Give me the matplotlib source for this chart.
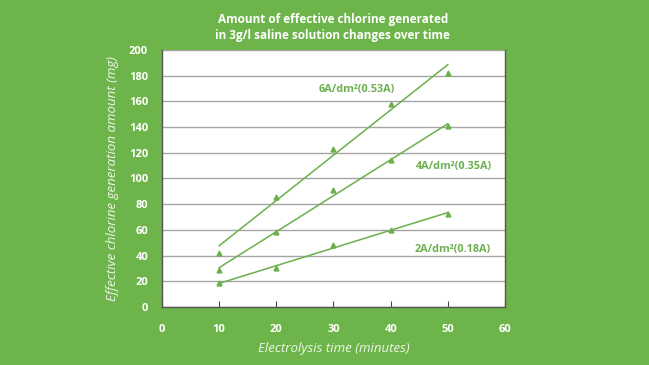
import numpy as np
import matplotlib
matplotlib.use('Agg')
import matplotlib.pyplot as plt

# data
time_min = [10, 20, 30, 40, 50]
chlorine_6a = [42, 85.6, 123, 158, 182]
chlorine_4a = [29, 58, 91, 114, 141]
chlorine_2a = [18.4, 30.6, 48, 60, 72.6]
series_labels = ['6A/dm²(0.53A)', '4A/dm²(0.35A)', '2A/dm²(0.18A)']
label_pos = [(34.1, 169), (51.1, 109), (50.9, 44.5)]

bg = '#6db54a'
green = '#6ab04c'
plt.rcParams['font.family'] = ['Open Sans', 'DejaVu Sans']

fig = plt.figure(figsize=(6.49, 3.65), dpi=100, facecolor=bg)
ax = fig.add_axes([0.2496, 0.159, 0.5285, 0.704])
ax.set_facecolor('white')

for ys, lab, (lx, ly) in zip([chlorine_6a, chlorine_4a, chlorine_2a], series_labels, label_pos):
    x = np.array(time_min)
    k, b = np.polyfit(x, ys, 1)
    ax.plot([x[0], x[-1]], [k * x[0] + b, k * x[-1] + b], color=green, lw=1.1, zorder=3)
    ax.plot(x, ys, '^', color=green, ms=3.5, zorder=4)
    ax.text(lx, ly, lab, color=green, fontsize=7.8, fontweight='bold',
            ha='center', va='center')

ax.set_xlim(0, 60)
ax.set_ylim(0, 200)
ax.set_xticks(range(0, 61, 10))
ax.set_yticks(range(0, 201, 20))
ax.yaxis.grid(True, color='#a5a5a5', lw=1)
ax.set_axisbelow(True)
ax.tick_params(axis='x', direction='in', length=4, color='#444444', colors='white',
               labelsize=8, pad=12)
ax.tick_params(axis='y', length=0, colors='white', labelsize=8, pad=10)
for t in ax.get_xticklabels() + ax.get_yticklabels():
    t.set_fontweight('bold')
for s in ['left', 'bottom', 'right']:
    ax.spines[s].set_color('#555555')
    ax.spines[s].set_linewidth(1)
ax.spines['top'].set_visible(False)

ax.set_xlabel('Electrolysis time (minutes)', color='#eef6e8', fontsize=9.5,
              style='italic', labelpad=5)
ax.set_ylabel('Effective chlorine generation amount (mg)', color='#eef6e8',
              fontsize=9.5, style='italic', labelpad=7)

fig.text(0.513, 0.925, 'Amount of effective chlorine generated\nin 3g/l saline solution changes over time',
         color='white', fontsize=8.5, fontweight='bold', ha='center', va='center',
         linespacing=1.3)

fig.savefig('out.png', dpi=100, facecolor=bg)
